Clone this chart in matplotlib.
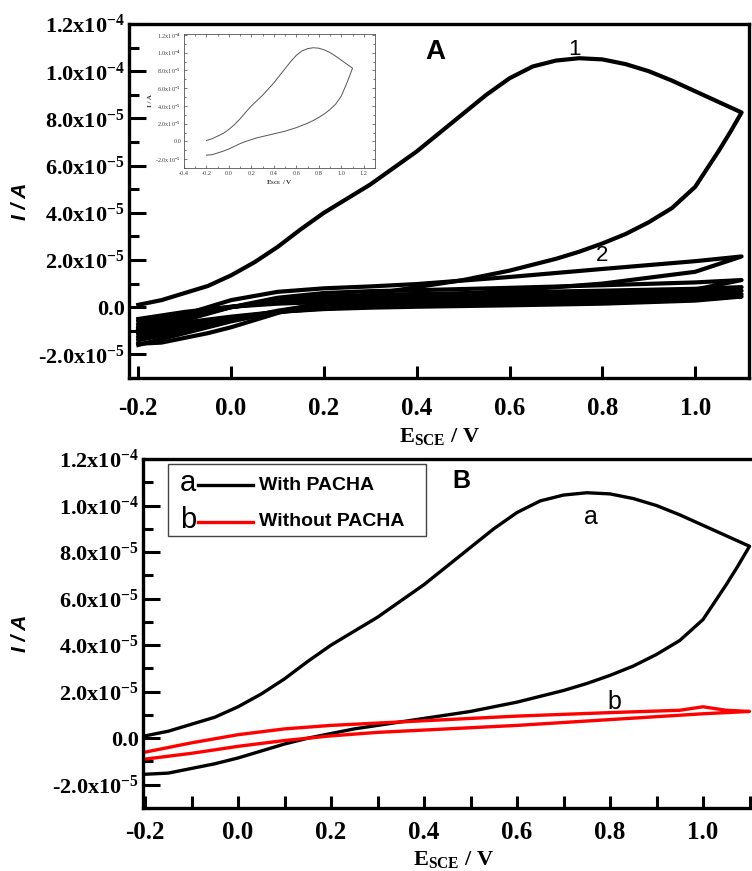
import numpy as np
import matplotlib
matplotlib.use("Agg")
import matplotlib.pyplot as plt
from matplotlib.patches import Rectangle

plt.rcParams['mathtext.fontset'] = 'custom'
plt.rcParams['mathtext.rm'] = 'Liberation Serif:bold'
plt.rcParams['mathtext.bf'] = 'Liberation Serif:bold'
plt.rcParams['mathtext.it'] = 'Liberation Serif:bold:italic'

# ---------------- data (current in units of 1e-5 A) ----------------
# Curve 1 / a : first cycle, with PACHA
E1_fwd = [-0.2, -0.15, -0.1, -0.05, 0.0, 0.05, 0.1, 0.15, 0.2, 0.25, 0.3, 0.35, 0.4, 0.45,
          0.5, 0.55, 0.6, 0.65, 0.7, 0.75, 0.8, 0.85, 0.9, 0.95, 1.0, 1.05, 1.1]
I1_fwd = [0.1, 0.3, 0.6, 0.9, 1.35, 1.9, 2.55, 3.3, 4.0, 4.6, 5.2, 5.9, 6.6, 7.4,
          8.2, 9.0, 9.7, 10.2, 10.45, 10.55, 10.5, 10.3, 10.0, 9.6, 9.15, 8.7, 8.25]
E1_rev = [1.1, 1.075, 1.05, 1.0, 0.95, 0.9, 0.85, 0.8, 0.75, 0.7, 0.65, 0.6, 0.55, 0.5,
          0.45, 0.4, 0.35, 0.3, 0.25, 0.2, 0.15, 0.1, 0.05, 0.0, -0.05, -0.1, -0.15, -0.2]
I1_rev = [8.25, 7.4, 6.6, 5.1, 4.2, 3.6, 3.1, 2.7, 2.35, 2.05, 1.8, 1.55, 1.35, 1.15,
          1.0, 0.85, 0.7, 0.55, 0.4, 0.2, 0.0, -0.25, -0.55, -0.85, -1.1, -1.3, -1.5, -1.55]

# following cycles (panel A), common potential grid
E_grid = [-0.2, -0.1, 0.0, 0.1, 0.2, 0.3, 0.4, 0.6, 0.8, 1.0, 1.1]
I2_fwd = [-1.0, -0.3, 0.3, 0.65, 0.8, 0.88, 0.98, 1.28, 1.62, 1.95, 2.15]
I2_rev = [-1.4, -1.0, -0.55, -0.15, 0.15, 0.3, 0.45, 0.7, 1.0, 1.5, 2.15]
I3_fwd = [-1.1, -0.55, 0.0, 0.4, 0.6, 0.68, 0.72, 0.82, 0.93, 1.05, 1.15]
I3_rev = [-1.6, -1.1, -0.6, -0.2, 0.05, 0.15, 0.22, 0.35, 0.5, 0.75, 1.15]
I4_fwd = [-0.9, -0.45, 0.0, 0.3, 0.45, 0.52, 0.56, 0.63, 0.7, 0.78, 0.85]
I4_rev = [-1.3, -0.95, -0.55, -0.2, 0.0, 0.08, 0.13, 0.22, 0.35, 0.55, 0.85]
I5_fwd = [-0.75, -0.35, 0.0, 0.25, 0.38, 0.43, 0.47, 0.53, 0.58, 0.64, 0.7]
I5_rev = [-1.15, -0.85, -0.5, -0.2, -0.02, 0.05, 0.1, 0.18, 0.28, 0.45, 0.7]
I6_fwd = [-0.6, -0.25, 0.02, 0.2, 0.3, 0.35, 0.38, 0.42, 0.46, 0.5, 0.55]
I6_rev = [-1.0, -0.75, -0.45, -0.2, -0.05, 0.02, 0.06, 0.12, 0.2, 0.35, 0.55]
I7_fwd = [-0.5, -0.2, 0.02, 0.15, 0.22, 0.26, 0.28, 0.32, 0.36, 0.4, 0.45]
I7_rev = [-0.85, -0.65, -0.4, -0.2, -0.08, -0.02, 0.02, 0.08, 0.15, 0.28, 0.45]

# curve b : without PACHA
Eb_fwd = [-0.2, -0.1, 0.0, 0.1, 0.2, 0.3, 0.4, 0.6, 0.8, 0.95, 1.0, 1.05, 1.1]
Ib_fwd = [-0.6, -0.2, 0.15, 0.4, 0.55, 0.65, 0.75, 0.95, 1.1, 1.2, 1.35, 1.2, 1.15]
Eb_rev = [1.1, 1.0, 0.8, 0.6, 0.4, 0.3, 0.2, 0.1, 0.0, -0.1, -0.2]
Ib_rev = [1.15, 1.05, 0.8, 0.55, 0.35, 0.25, 0.1, -0.1, -0.35, -0.65, -0.9]

UNIT = 1e-5

yticks = [-2e-5, 0.0, 2e-5, 4e-5, 6e-5, 8e-5, 1e-4, 1.2e-4]
ytick_labels = [r'-2.0x10$^{-5}$', '0.0', r'2.0x10$^{-5}$', r'4.0x10$^{-5}$',
                r'6.0x10$^{-5}$', r'8.0x10$^{-5}$', r'1.0x10$^{-4}$', r'1.2x10$^{-4}$']
xticks = [-0.2, 0.0, 0.2, 0.4, 0.6, 0.8, 1.0]
xtick_labels = ['-0.2', '0.0', '0.2', '0.4', '0.6', '0.8', '1.0']
inset_xticks = [-0.4, -0.2, 0.0, 0.2, 0.4, 0.6, 0.8, 1.0, 1.2]
inset_xtick_labels = ['-0.4', '-0.2', '0.0', '0.2', '0.4', '0.6', '0.8', '1.0', '1.2']


def loop(Ef, If, Er, Ir):
    E = list(Ef) + list(Er)
    I = (np.array(list(If) + list(Ir))) * UNIT
    return E, I


serif_bold = dict(family='Liberation Serif', weight='bold')

fig = plt.figure(figsize=(7.52, 8.71), dpi=100)

W, H = 752.0, 871.0
axA = fig.add_axes([129 / W, 1 - 378 / H, 620 / W, 354 / H])
axB = fig.add_axes([143 / W, 1 - 808 / H, 620 / W, 349 / H])


def style_main(ax, minor_x, xpad):
    for s in ax.spines.values():
        s.set_linewidth(2.4)
    ax.set_ylim(-3e-5, 1.2e-4)
    ax.set_yticks(yticks, labels=ytick_labels)
    ax.set_yticks(np.array([-3, -1, 1, 3, 5, 7, 9, 11]) * 1e-5, minor=True)
    ax.set_xticks(xticks, labels=xtick_labels)
    if minor_x:
        ax.set_xticks([-0.1, 0.1, 0.3, 0.5, 0.7, 0.9, 1.1], minor=True)
    ax.tick_params(axis='y', which='major', direction='in', length=12, width=2.2, pad=3,
                   labelsize=16)
    ax.tick_params(axis='y', which='minor', direction='in', length=7, width=2.2)
    ax.tick_params(axis='x', which='major', direction='in', length=9, width=2.2, pad=xpad,
                   labelsize=18)
    ax.tick_params(axis='x', which='minor', direction='in', length=9, width=2.2)
    for lab in ax.get_xticklabels() + ax.get_yticklabels():
        lab.set_fontfamily('Liberation Serif')
        lab.set_fontweight('bold')
    ax.set_xlabel(r'E$_{\mathbf{SCE}}$ / V', fontsize=16, **serif_bold)
    ax.set_ylabel('I / A', fontsize=15, family='Liberation Sans', weight='bold',
                  style='italic')


# ---------------- Panel A ----------------
lwA = 3.0
E, I = loop(E1_fwd, I1_fwd, E1_rev, I1_rev)
axA.plot(E, I, color='black', lw=lwA, solid_joinstyle='round')
for If, Ir in [(I2_fwd, I2_rev), (I3_fwd, I3_rev), (I4_fwd, I4_rev),
               (I5_fwd, I5_rev), (I6_fwd, I6_rev), (I7_fwd, I7_rev)]:
    E, I = loop(E_grid, If, E_grid[::-1], Ir[::-1])
    axA.plot(E, I, color='black', lw=lwA, solid_joinstyle='round')
axA.set_xlim(-0.22, 1.116)
style_main(axA, minor_x=False, xpad=14)
axA.xaxis.set_label_coords(0.5, -0.135)
axA.yaxis.set_label_coords(-0.16, 0.5)
axA.text(0.74, 1.09e-4, '1', fontsize=16, family='Liberation Sans', ha='center', va='center')
axA.text(0.80, 2.2e-5, '2', fontsize=16, family='Liberation Sans', ha='center', va='center')
axA.text(0.494, 0.921, 'A', transform=axA.transAxes, fontsize=20, family='Liberation Sans',
         weight='bold', ha='center', va='center')

# inset
axI = fig.add_axes([184 / W, 1 - 168 / H, 191 / W, 134 / H])
E, I = loop(E1_fwd, I1_fwd, E1_rev, I1_rev)
axI.plot(E, I, color='#555555', lw=0.7)
axI.set_xlim(-0.39, 1.3)
axI.set_ylim(-3e-5, 1.21e-4)
axI.set_xticks(inset_xticks, labels=inset_xtick_labels)
axI.set_xticks([-0.3, -0.1, 0.1, 0.3, 0.5, 0.7, 0.9, 1.1], minor=True)
axI.set_yticks(yticks, labels=ytick_labels)
axI.set_yticks(np.array([-3, -1, 1, 3, 5, 7, 9, 11]) * 1e-5, minor=True)
axI.tick_params(which='both', direction='in', top=True, right=True, width=0.5,
                labelsize=4.5, pad=2, colors='#444444')
axI.tick_params(which='major', length=2.5)
axI.tick_params(which='minor', length=1.5)
for lab in axI.get_xticklabels() + axI.get_yticklabels():
    lab.set_fontfamily('Liberation Serif')
for s in axI.spines.values():
    s.set_linewidth(0.6)
    s.set_color('#555555')
axI.set_xlabel(r'E$_{\mathrm{SCE}}$ / V', fontsize=5, family='Liberation Serif', weight='bold',
               color='#333333', labelpad=2)
axI.set_ylabel('I / A', fontsize=5, family='Liberation Serif', weight='bold', color='#333333',
               labelpad=2)

# ---------------- Panel B ----------------
lwB = 2.4
E, I = loop(E1_fwd, I1_fwd, E1_rev, I1_rev)
axB.plot(E, I, color='black', lw=lwB, solid_joinstyle='round')
E, I = loop(Eb_fwd, Ib_fwd, Eb_rev, Ib_rev)
axB.plot(E, I, color='#ff0000', lw=lwB, solid_joinstyle='round')
axB.set_xlim(-0.2043, 1.129)
style_main(axB, minor_x=True, xpad=9)
axB.spines['right'].set_visible(False)
axB.xaxis.set_label_coords(0.5, -0.118)
axB.yaxis.set_label_coords(-0.183, 0.5)
axB.text(0.76, 9.5e-5, 'a', fontsize=18, family='Liberation Sans', ha='center', va='center')
axB.text(0.81, 1.55e-5, 'b', fontsize=18, family='Liberation Sans', ha='center', va='center')
axB.text(0.514, 0.937, 'B', transform=axB.transAxes, fontsize=18, family='Liberation Sans',
         weight='bold', ha='center', va='center')

# legend (drawn manually to reproduce the "a ---- With PACHA" style)
axB.add_patch(Rectangle((0.0403, 0.7794), 0.4161, 0.2063, transform=axB.transAxes,
                        fill=False, edgecolor='#444444', lw=1.0))
for y, letter, col, lab in [(0.9255, 'a', 'black', 'With PACHA'),
                            (0.8195, 'b', '#ff0000', 'Without PACHA')]:
    axB.text(0.073, y + 0.005, letter, transform=axB.transAxes, fontsize=21,
             family='Liberation Sans', ha='center', va='center')
    axB.plot([0.089, 0.1767], [y, y], transform=axB.transAxes, color=col, lw=2.4)
    axB.text(0.1864, y, lab, transform=axB.transAxes, fontsize=14, family='Liberation Sans',
             weight='bold', ha='left', va='center')

fig.savefig('out.png', dpi=100)
